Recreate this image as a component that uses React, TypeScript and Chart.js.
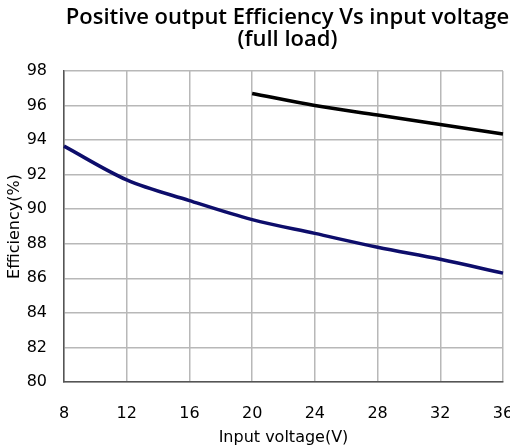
import React, { useEffect, useRef } from "react";
import { Chart, registerables } from "chart.js";

Chart.register(...registerables);

const voltages = ["8", "12", "16", "20", "24", "28", "32", "36"];
const seriesBlue = [93.65, 91.7, 90.5, 89.4, 88.6, 87.8, 87.1, 86.3];
const seriesBlack = [null, null, null, 96.7, 96.0, 95.45, 94.9, 94.35];
const titleLines = ["Positive output Efficiency Vs input voltage", "(full load)"];
const xTitle = "Input voltage(V)";
const yTitle = "Efficiency(%)";

const FONT = "'DejaVu Sans', sans-serif";

const titlePlugin = {
  id: "centerTitle",
  afterDraw(chart: any) {
    const ctx = chart.ctx;
    const a = chart.chartArea;
    const cx = (a.left + a.right) / 2 + 4;
    ctx.save();
    ctx.fillStyle = "#000";
    ctx.font = `600 22px 'Open Sans', sans-serif`;
    ctx.textAlign = "center";
    ctx.textBaseline = "middle";
    ctx.fillText(titleLines[0], cx, 18);
    ctx.fillText(titleLines[1], cx, 40);
    ctx.restore();
  },
};

export default function App() {
  const ref = useRef<HTMLCanvasElement>(null);
  useEffect(() => {
    const chart = new Chart(ref.current!, {
      type: "line",
      data: {
        labels: voltages,
        datasets: [
          {
            data: seriesBlue,
            borderColor: "#0d0d6b",
            borderWidth: 3.5,
            pointRadius: 0,
            tension: 0.3,
            cubicInterpolationMode: "monotone",
          },
          {
            data: seriesBlack,
            borderColor: "#000000",
            borderWidth: 3.5,
            pointRadius: 0,
            tension: 0.3,
            cubicInterpolationMode: "monotone",
          },
        ],
      },
      plugins: [titlePlugin],
      options: {
        animation: false,
        responsive: false,
        layout: { padding: { top: 71, right: 7, left: 0, bottom: 0 } },
        plugins: { legend: { display: false }, tooltip: { enabled: false } },
        scales: {
          x: {
            type: "category",
            offset: false,
            grid: { color: "#b8b8b8", lineWidth: 1.5, drawTicks: false },
            border: { color: "#555", width: 1.5 },
            ticks: { color: "#000", font: { family: FONT, size: 16 }, padding: 22, autoSkip: false, maxRotation: 0 },
            title: { display: true, text: xTitle, color: "#000", font: { family: FONT, size: 16 }, padding: { top: 0, bottom: -2 } },
            afterFit: (s: any) => {
              s.height = 63;
              s.paddingLeft = 0;
              s.paddingRight = 0;
            },
          },
          y: {
            min: 80,
            max: 98,
            grid: { color: "#b8b8b8", lineWidth: 1.5, drawTicks: false },
            border: { color: "#555", width: 1.5 },
            ticks: { stepSize: 2, color: "#000", font: { family: FONT, size: 16 }, padding: 17 },
            title: { display: true, text: yTitle, color: "#000", font: { family: FONT, size: 16 }, padding: { top: 5, bottom: 0 } },
            afterFit: (s: any) => {
              s.width = 64;
            },
          },
        },
      },
    });
    return () => chart.destroy();
  }, []);
  return (
    <div style={{ position: "fixed", left: 0, top: 0, width: 510, height: 445, background: "#fff" }}>
      <canvas ref={ref} width={510} height={445} />
    </div>
  );
}
